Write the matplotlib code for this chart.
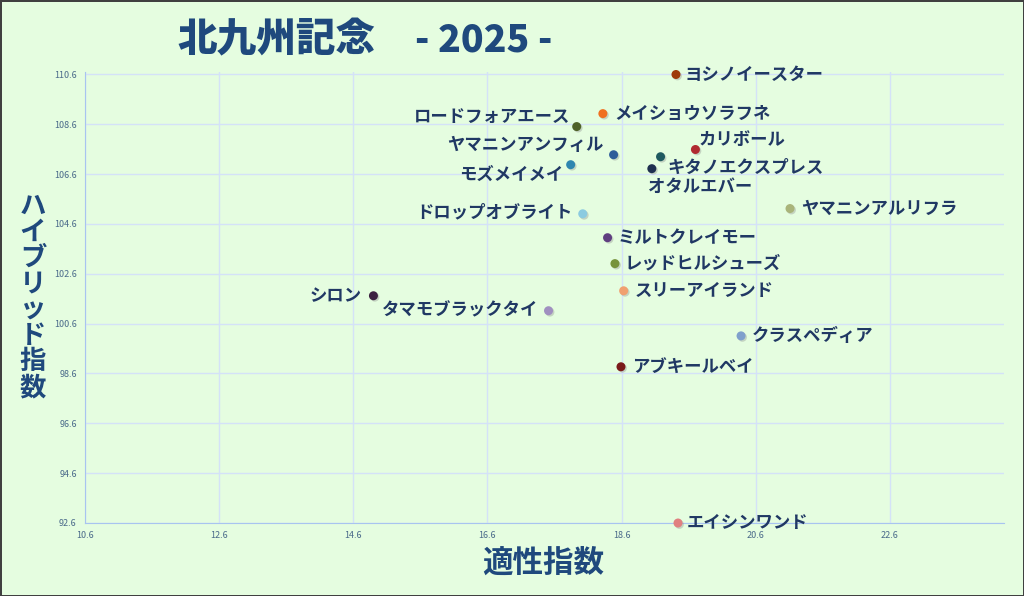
import matplotlib
matplotlib.use('Agg')
import matplotlib.pyplot as plt
import matplotlib.patheffects as pe

plt.rcParams['font.family'] = ['Noto Sans CJK JP', 'DejaVu Sans']

# horse names, aptitude index (x), hybrid index (y)
horses = ['ヨシノイースター', 'メイショウソラフネ', 'ロードフォアエース', 'ヤマニンアンフィル',
          'カリボール', 'キタノエクスプレス', 'オタルエバー', 'モズメイメイ',
          'ドロップオブライト', 'ヤマニンアルリフラ', 'ミルトクレイモー', 'レッドヒルシューズ',
          'スリーアイランド', 'シロン', 'タマモブラックタイ', 'クラスペディア',
          'アブキールベイ', 'エイシンワンド']
aptitude = [19.41, 18.32, 17.93, 18.48, 19.70, 19.18, 19.05, 17.84, 18.02,
            21.11, 18.39, 18.50, 18.63, 14.90, 17.51, 20.38, 18.59, 19.44]
hybrid = [110.6, 109.03, 108.51, 107.38, 107.59, 107.30, 106.82, 106.98, 105.01,
          105.22, 104.05, 103.01, 101.92, 101.72, 101.12, 100.11, 98.87, 92.6]
colors = ['#9e3a0a', '#f07020', '#4f6228', '#2e5c9a', '#b02a30', '#1f5a60',
          '#1f3050', '#2f86b0', '#8ccbe0', '#a9b47a', '#5f3f80', '#77933c',
          '#f0a070', '#3b2040', '#a090c0', '#7fa0cc', '#7a1a1a', '#e08080']

# label placement (pixels from the dot)
offsets = [(9, 0, 'left'), (11, 0, 'left'), (-6, 10, 'right'), (-10, 10, 'right'),
           (3, 10, 'left'), (7, -11, 'left'), (-4, -18, 'left'), (-7, -10, 'right'),
           (-10, 1, 'right'), (11, 0, 'left'), (10, 0, 'left'), (10, 0, 'left'),
           (11, 0, 'left'), (-12, 0, 'right'), (-10, 0, 'right'), (11, 0, 'left'),
           (11, 0, 'left'), (9, 0, 'left')]

bg = '#e5fde0'
navy = '#203864'

fig = plt.figure(figsize=(10.24, 5.96), dpi=100, facecolor=bg,
                 edgecolor='#404040', linewidth=2)
ax = fig.add_axes([85 / 1024, 73 / 596, 919 / 1024, 451 / 596])
ax.set_facecolor(bg)

pts = ax.scatter(aptitude, hybrid, s=42, c=colors, zorder=3, linewidths=0,
                 clip_on=False)
pts.set_path_effects([pe.SimplePatchShadow(offset=(1, -1), shadow_rgbFace='#888888',
                                           alpha=0.35), pe.Normal()])
for name, x, y, (dx, dy, ha) in zip(horses, aptitude, hybrid, offsets):
    ax.annotate(name, (x, y), xytext=(dx, dy), textcoords='offset pixels',
                ha=ha, va='center', fontsize=12.5, fontweight='bold', color=navy,
                zorder=4)

ax.set_xlim(10.6, 24.3)
ax.set_ylim(92.6, 110.7)
ax.set_xticks([10.6, 12.6, 14.6, 16.6, 18.6, 20.6, 22.6])
ax.set_yticks([92.6, 94.6, 96.6, 98.6, 100.6, 102.6, 104.6, 106.6, 108.6, 110.6])
ax.set_xticklabels(['10.6', '12.6', '14.6', '16.6', '18.6', '20.6', '22.6'])
ax.set_yticklabels(['92.6', '94.6', '96.6', '98.6', '100.6', '102.6', '104.6',
                    '106.6', '108.6', '110.6'])
ax.tick_params(length=0, labelsize=6.5, labelcolor='#4a6a8a', pad=6)
ax.grid(True, color='#d4e2f8', linewidth=1)
ax.set_axisbelow(True)
for side in ['top', 'right']:
    ax.spines[side].set_visible(False)
for side in ['left', 'bottom']:
    ax.spines[side].set_color('#a8c4f0')

fig.text(177 / 1024, 1 - 40 / 596, '北九州記念', fontsize=28.5, fontweight='heavy',
         color='#1f497d', ha='left', va='center')
fig.text(415 / 1024, 1 - 40 / 596, '- 2025 -', fontsize=27, fontweight='heavy',
         color='#1f497d', ha='left', va='center')

fig.text(543 / 1024, 1 - 563 / 596, '適性指数', fontsize=22, fontweight='bold',
         color='#1f497d', ha='center', va='center')
fig.text(33 / 1024, 1 - 297 / 596, '\n'.join('ハイブリッド指数'), fontsize=19,
         fontweight='bold', color='#1f497d', ha='center', va='center',
         linespacing=0.95)

fig.savefig('out.png', dpi=100, facecolor=bg, edgecolor='#404040')
